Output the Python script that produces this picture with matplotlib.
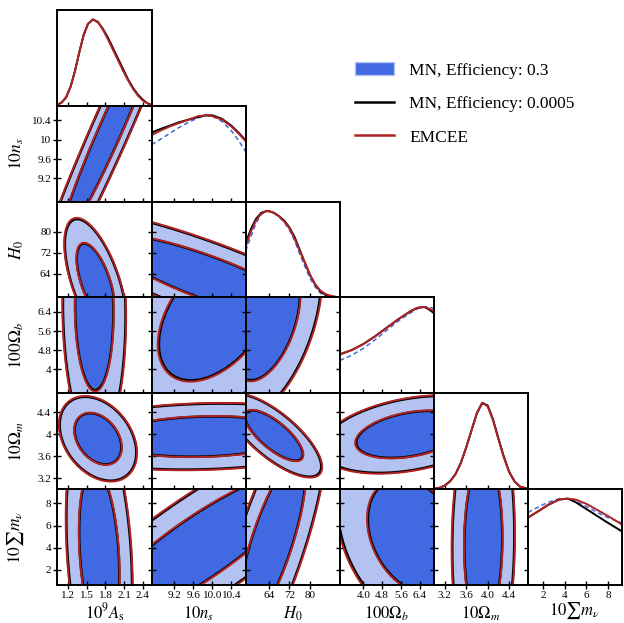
import numpy as np
import matplotlib
matplotlib.use("Agg")
import matplotlib.pyplot as plt
from matplotlib.patches import Patch
from matplotlib.lines import Line2D

plt.rcParams['font.family'] = ['Liberation Serif', 'DejaVu Serif']
plt.rcParams['mathtext.fontset'] = 'stix'

# parameters, axis ranges and ticks
names = [r'$10^9A_{\rm s}$', r'$10n_s$', r'$H_0$', r'$100\Omega_b$', r'$10\Omega_m$', r'$10\sum m_\nu$']
limits = [(1.03, 2.54), (8.72, 10.70), (55.0, 91.5), (3.0, 7.0), (3.0, 4.75), (0.6, 9.3)]
ticks = [[1.2, 1.5, 1.8, 2.1, 2.4], [9.2, 9.6, 10.0, 10.4], [64, 72, 80],
         [4.0, 4.8, 5.6, 6.4], [3.2, 3.6, 4.0, 4.4], [2, 4, 6, 8]]
xtick_labels = [['1.2', '1.5', '1.8', '2.1', '2.4'], ['9.2', '9.6', '10.0', '10.4'], ['64', '72', '80'],
                ['4.0', '4.8', '5.6', '6.4'], ['3.2', '3.6', '4.0', '4.4'], ['2', '4', '6', '8']]
ytick_labels = [['1.2', '1.5', '1.8', '2.1', '2.4'], ['9.2', '9.6', '10', '10.4'], ['64', '72', '80'],
                ['4', '4.8', '5.6', '6.4'], ['3.2', '3.6', '4', '4.4'], ['2', '4', '6', '8']]

# 1D marginals (peak normalised to 1)
as_x = [1.03, 1.10, 1.17, 1.24, 1.31, 1.38, 1.45, 1.52, 1.60, 1.68, 1.76, 1.84, 1.92, 2.00, 2.08, 2.16, 2.24, 2.32, 2.40, 2.47, 2.54]
as_red = [0.01, 0.04, 0.10, 0.22, 0.40, 0.62, 0.82, 0.95, 1.0, 0.97, 0.88, 0.77, 0.65, 0.53, 0.41, 0.30, 0.20, 0.12, 0.06, 0.03, 0.01]
as_black = [0.01, 0.04, 0.10, 0.22, 0.40, 0.62, 0.82, 0.95, 1.0, 0.97, 0.89, 0.79, 0.67, 0.55, 0.43, 0.31, 0.21, 0.13, 0.07, 0.03, 0.01]
as_blue = [0.01, 0.04, 0.10, 0.22, 0.40, 0.62, 0.82, 0.95, 1.0, 0.97, 0.88, 0.77, 0.65, 0.53, 0.41, 0.30, 0.20, 0.12, 0.07, 0.03, 0.01]

ns_x = [8.72, 8.9, 9.1, 9.3, 9.5, 9.7, 9.86, 10.0, 10.2, 10.4, 10.55, 10.70]
ns_red = [0.77, 0.82, 0.87, 0.91, 0.95, 0.99, 1.0, 0.99, 0.95, 0.87, 0.79, 0.70]
ns_black = [0.80, 0.84, 0.88, 0.92, 0.95, 0.98, 1.0, 1.0, 0.96, 0.88, 0.80, 0.71]
ns_blue = [0.66, 0.72, 0.79, 0.86, 0.92, 0.97, 1.0, 0.99, 0.93, 0.82, 0.71, 0.58]

h0_x = [55, 57, 59, 61, 63, 64, 66, 68, 70, 72, 74, 76, 78, 80, 82, 84, 86, 88, 91.5]
h0_red = [0.59, 0.76, 0.89, 0.97, 1.0, 1.0, 0.98, 0.94, 0.88, 0.80, 0.68, 0.54, 0.40, 0.26, 0.15, 0.08, 0.04, 0.02, 0.0]
h0_black = [0.63, 0.79, 0.91, 0.98, 1.0, 1.0, 0.98, 0.94, 0.89, 0.81, 0.70, 0.55, 0.40, 0.26, 0.15, 0.07, 0.03, 0.01, 0.0]
h0_blue = [0.54, 0.70, 0.86, 0.96, 1.0, 1.0, 0.98, 0.93, 0.87, 0.78, 0.66, 0.50, 0.36, 0.22, 0.12, 0.05, 0.02, 0.01, 0.0]

ob_x = [3.0, 3.5, 4.0, 4.5, 5.0, 5.5, 6.0, 6.3, 6.6, 6.8, 7.0]
ob_red = [0.45, 0.50, 0.57, 0.66, 0.76, 0.86, 0.95, 0.99, 1.0, 0.98, 0.95]
ob_black = [0.45, 0.50, 0.57, 0.66, 0.76, 0.86, 0.95, 0.99, 1.0, 0.97, 0.93]
ob_blue = [0.38, 0.44, 0.52, 0.62, 0.73, 0.84, 0.93, 0.98, 1.0, 1.0, 0.98]

om_x = [3.0, 3.1, 3.2, 3.3, 3.4, 3.5, 3.6, 3.7, 3.8, 3.9, 4.0, 4.1, 4.2, 4.3, 4.4, 4.5, 4.6, 4.75]
om_red = [0.005, 0.015, 0.04, 0.09, 0.17, 0.30, 0.48, 0.68, 0.88, 1.0, 0.96, 0.80, 0.58, 0.37, 0.20, 0.09, 0.03, 0.005]
om_black = [0.005, 0.015, 0.04, 0.09, 0.17, 0.30, 0.48, 0.68, 0.88, 1.0, 0.97, 0.81, 0.59, 0.38, 0.20, 0.09, 0.03, 0.005]
om_blue = [0.005, 0.015, 0.04, 0.09, 0.17, 0.30, 0.47, 0.67, 0.87, 0.99, 0.97, 0.81, 0.59, 0.38, 0.21, 0.10, 0.03, 0.005]

mn_x = [0.6, 1.5, 2.5, 3.5, 4.3, 5.0, 6.0, 7.0, 8.0, 9.3]
mn_red = [0.78, 0.85, 0.93, 0.99, 1.0, 0.99, 0.94, 0.87, 0.80, 0.70]
mn_black = [0.78, 0.85, 0.93, 0.99, 1.0, 0.96, 0.88, 0.80, 0.72, 0.62]
mn_blue = [0.84, 0.90, 0.96, 1.0, 1.0, 0.97, 0.91, 0.84, 0.78, 0.72]

marg_x = [as_x, ns_x, h0_x, ob_x, om_x, mn_x]
marg_red = [as_red, ns_red, h0_red, ob_red, om_red, mn_red]
marg_black = [as_black, ns_black, h0_black, ob_black, om_black, mn_black]
marg_blue = [as_blue, ns_blue, h0_blue, ob_blue, om_blue, mn_blue]

# 2D panels: Gaussian shape (centre, widths, correlation)
pair_row = [1, 2, 2, 3, 3, 3, 4, 4, 4, 4, 5, 5, 5, 5, 5]
pair_col = [0, 0, 1, 0, 1, 2, 0, 1, 2, 3, 0, 1, 2, 3, 4]
mu_x = [1.887, 1.64, 9.9, 1.62, 10.1, 63.0, 1.68, 9.8, 66.0, 6.0, 1.70, 9.75, 65.2, 6.19, 3.92]
mu_y = [10.22, 61.0, 62.5, 6.5, 6.3, 6.0, 3.92, 3.96, 3.98, 4.0, 3.5, 4.0, 4.5, 5.0, 4.5]
sig_x = [0.524, 0.196, 1.4, 0.2, 0.8, 8.5, 0.245, 1.3, 7.3, 1.5, 0.21, 1.45, 8.45, 1.3, 0.23]
sig_y = [1.5, 9.5, 10.6, 2.19, 1.8, 1.6, 0.305, 0.24, 0.30, 0.28, 5.0, 4.5, 5.0, 3.4, 5.0]
rho = [0.968, -0.6, -0.845, -0.05, 0.45, 0.45, -0.33, 0.12, -0.75, 0.35, -0.25, 0.875, 0.77, -0.3, 0.05]

chi2_levels = [2.30, 6.18]          # 68% and 95% for 2 dof
scale_fill, scale_black, scale_red = 1.0, 1.01, 1.03

dark = '#4169e1'
light = '#b3c2f1'
red = '#b22222'

fig, axes = plt.subplots(6, 6, figsize=(6.24, 6.23), dpi=100)
plt.subplots_adjust(left=0.0921, right=0.9968, bottom=0.061, top=0.984, wspace=0, hspace=0)


def maha(X, Y, mx, my, sx, sy, r, s):
    dx = (X - mx) / (sx * s)
    dy = (Y - my) / (sy * s)
    return (dx ** 2 - 2 * r * dx * dy + dy ** 2) / (1 - r ** 2)


for i in range(6):
    for j in range(6):
        ax = axes[i, j]
        if j > i:
            ax.axis('off')
            continue
        for sp in ax.spines.values():
            sp.set_linewidth(1.4)
        ax.tick_params(direction='inout', length=6, width=1, labelsize=8, pad=1.5)
        ax.set_xlim(limits[j])
        ax.set_xticks(ticks[j])
        if i == j:
            ax.plot(marg_x[i], marg_blue[i], color=dark, lw=1.1, ls=(0, (3, 2)))
            ax.plot(marg_x[i], marg_black[i], color='black', lw=1.4)
            ax.plot(marg_x[i], marg_red[i], color=red, lw=1.4)
            ax.set_ylim(0, 1.11)
            ax.set_yticks([])
        else:
            k = [n for n in range(len(pair_row)) if pair_row[n] == i and pair_col[n] == j][0]
            gx = np.linspace(limits[j][0], limits[j][1], 250)
            gy = np.linspace(limits[i][0], limits[i][1], 250)
            X, Y = np.meshgrid(gx, gy)
            args = (mu_x[k], mu_y[k], sig_x[k], sig_y[k], rho[k])
            ax.contourf(X, Y, maha(X, Y, *args, scale_fill), levels=[0] + chi2_levels,
                        colors=[dark, light])
            ax.contour(X, Y, maha(X, Y, *args, scale_black), levels=chi2_levels,
                       colors='black', linewidths=1.8)
            ax.contour(X, Y, maha(X, Y, *args, scale_red), levels=chi2_levels,
                       colors=red, linewidths=1.4)
            ax.set_ylim(limits[i])
            ax.set_yticks(ticks[i])
            if j == i - 1:
                ax.tick_params(right=True)
        if i == 5:
            ax.set_xticklabels(xtick_labels[j])
            ax.set_xlabel(names[j], fontsize=12, va='baseline')
            # the sum sign hangs below the baseline, so lift that label a little
            ax.xaxis.set_label_coords(0.5, -0.31 if j == 5 else -0.35)
        else:
            ax.set_xticklabels([])
        if j == 0 and i > 0:
            ax.set_yticklabels(ytick_labels[i])
            ax.set_ylabel(names[i], fontsize=12.5)
            ax.yaxis.set_label_coords(-0.33, 0.5)
        elif i != j:
            ax.set_yticklabels([])

handles = [Patch(facecolor=dark, edgecolor=light),
           Line2D([], [], color='black', lw=1.8),
           Line2D([], [], color=red, lw=1.8)]
fig.legend(handles, ['MN, Efficiency: 0.3', 'MN, Efficiency: 0.0005', 'EMCEE'],
           loc='upper left', bbox_to_anchor=(0.558, 0.911), frameon=False, fontsize=12.5,
           handlelength=2.25, handletextpad=0.85, labelspacing=1.0, borderaxespad=0)

fig.savefig('out.png', dpi=100)
